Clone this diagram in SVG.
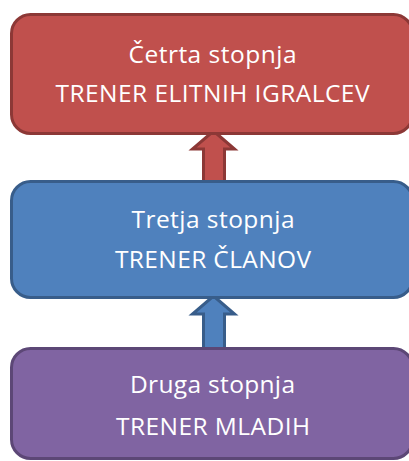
<svg xmlns="http://www.w3.org/2000/svg" width="409" height="461" viewBox="0 0 409 461">
<style>
.box{stroke-width:3}
.red{fill:#C0504D;stroke:#8C3836}
.blue{fill:#4F81BD;stroke:#385D8A}
.purple{fill:#8064A2;stroke:#5C4776}
text{font-family:"Open Sans","Liberation Sans",sans-serif;font-size:24.5px;fill:#FFFFFF;text-anchor:middle}
</style>
<rect width="409" height="461" fill="#FFFFFF"/>
<g id="connectors">
<path class="red" stroke-width="3" d="M213.5,131 L234.5,149 L224.5,149 L224.5,184 L203.5,184 L203.5,149 L192.5,149 Z"/>
<path class="blue" stroke-width="3" d="M213.5,296 L234.5,314 L224.5,314 L224.5,349 L203.5,349 L203.5,314 L192.5,314 Z"/>
</g>
<g id="node-cetrta">
<rect class="box red" x="11.5" y="14.5" width="401" height="119" rx="19"/>
<text x="212.5" y="63" textLength="168" lengthAdjust="spacing">Četrta stopnja</text>
<text x="212.5" y="102" textLength="314" lengthAdjust="spacing">TRENER ELITNIH IGRALCEV</text>
</g>
<g id="node-tretja">
<rect class="box blue" x="11.5" y="181.5" width="401" height="116" rx="19"/>
<text x="213" y="228" textLength="163" lengthAdjust="spacing">Tretja stopnja</text>
<text x="213" y="268" textLength="196" lengthAdjust="spacing">TRENER ČLANOV</text>
</g>
<g id="node-druga">
<rect class="box purple" x="11.5" y="348.5" width="401" height="110" rx="19"/>
<text x="212.5" y="393" textLength="165" lengthAdjust="spacing">Druga stopnja</text>
<text x="213" y="435" textLength="194" lengthAdjust="spacing">TRENER MLADIH</text>
</g>
</svg>
